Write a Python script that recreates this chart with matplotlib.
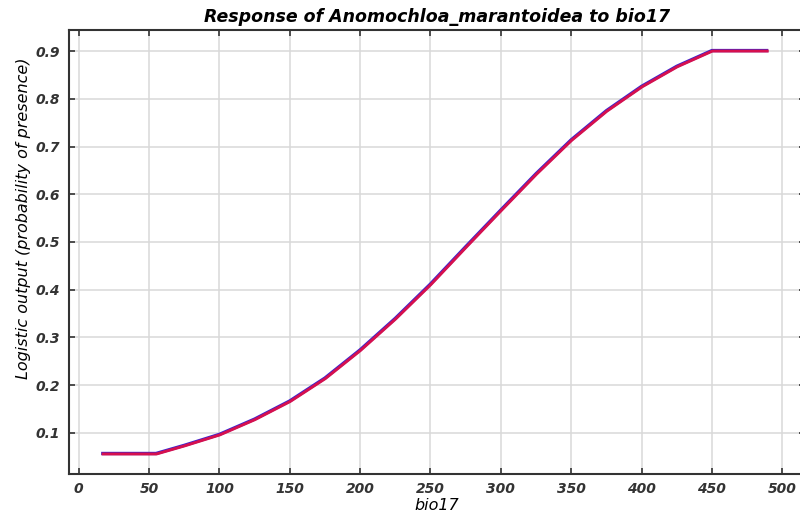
import matplotlib
matplotlib.use('Agg')
import matplotlib.pyplot as plt
import matplotlib.transforms as mtransforms

# values
bio17 = [16, 30, 55, 75, 100, 125, 150, 175, 200, 225, 250, 275, 300, 325, 350, 375, 400, 425, 450, 470, 490]
presence = [0.057, 0.057, 0.057, 0.074, 0.097, 0.129, 0.167, 0.215, 0.274, 0.340, 0.412, 0.490, 0.567, 0.643, 0.714, 0.775, 0.826, 0.868, 0.901, 0.901, 0.901]

x_ticks = [0, 50, 100, 150, 200, 250, 300, 350, 400, 450, 500]
y_ticks = [0.1, 0.2, 0.3, 0.4, 0.5, 0.6, 0.7, 0.8, 0.9]

plt.rcParams['font.family'] = ['DejaVu Sans']

fig = plt.figure(figsize=(8, 5.24), dpi=100)
ax = fig.add_axes([0.086, 0.0954, 0.92, 0.8473])

ax.set_xlim(-7, 516)
ax.set_ylim(0.014, 0.944)

# thin blue line underneath, red slightly offset on top
ax.plot(bio17, presence, color='#3a22d0', linewidth=2.4, solid_capstyle='butt')
shift = mtransforms.offset_copy(ax.transData, fig=fig, x=0.35, y=-0.35, units='points')
ax.plot(bio17, presence, color='#d6104e', linewidth=2.1, transform=shift, solid_capstyle='butt')

ax.set_xticks(x_ticks)
ax.set_yticks(y_ticks)
ax.set_xticklabels([str(v) for v in x_ticks])
ax.set_yticklabels(['%.1f' % v for v in y_ticks])
for lab in ax.get_xticklabels() + ax.get_yticklabels():
    lab.set_fontweight('bold')
    lab.set_fontstyle('italic')
    lab.set_fontsize(10)
    lab.set_color('#1a1a1a')

ax.tick_params(direction='in', top=True, right=True, length=4, width=1.2, pad=6, colors='#333333')
ax.grid(True, color='#d8d8d8', linewidth=1.1)
ax.set_axisbelow(True)
for s in ax.spines.values():
    s.set_linewidth(1.5)
    s.set_color('#333333')
ax.spines['right'].set_visible(False)

ax.set_title('Response of Anomochloa_marantoidea to bio17', fontsize=12.5, fontweight='bold',
             fontstyle='italic', pad=6)
ax.set_xlabel('bio17', fontsize=11.5, fontstyle='italic', labelpad=1)
ax.set_ylabel('Logistic output (probability of presence)', fontsize=11.5, fontstyle='italic')
ax.yaxis.set_label_coords(-0.052, 0.575)

fig.savefig('out.png', dpi=100)
